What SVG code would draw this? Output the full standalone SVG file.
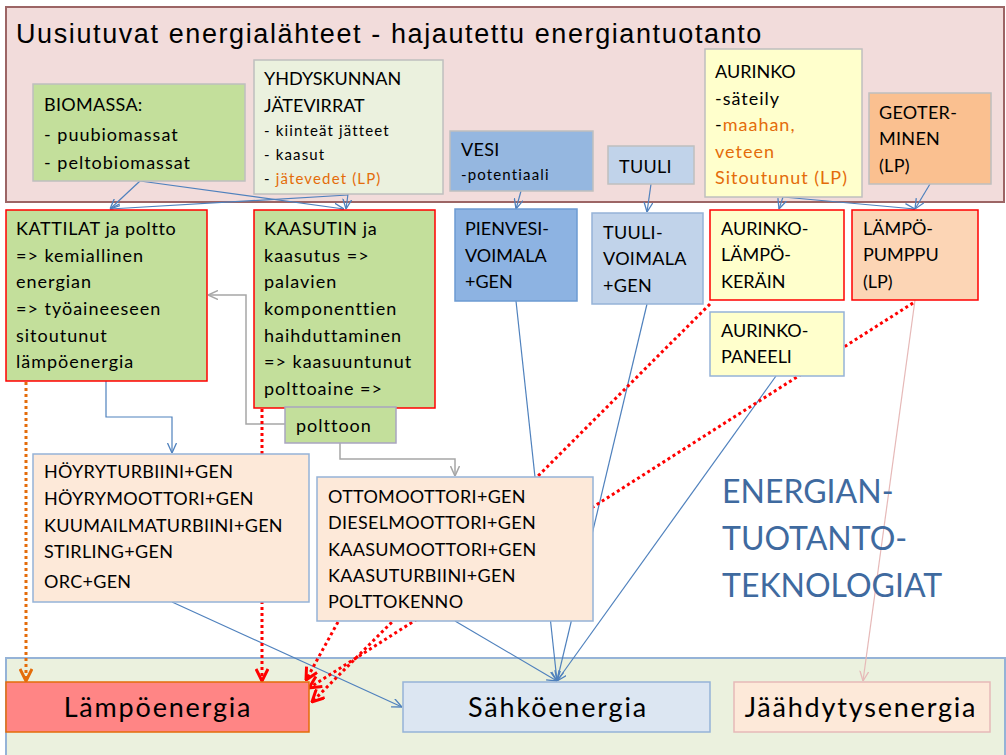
<svg xmlns="http://www.w3.org/2000/svg" width="1006" height="755" viewBox="0 0 1006 755">
<defs>
<style>
.t{font-family:Lato,"Liberation Sans",sans-serif;fill:#000;font-size:18px}
.s{font-size:15px;letter-spacing:1.15px}
.l{letter-spacing:1px}
.m{letter-spacing:0.6px}
.c{letter-spacing:0.3px}
.o{fill:#E46C0A}
.big{font-size:27px;letter-spacing:1.8px}
.gb{stroke:#BFBFBF;stroke-width:1.5}
.rb{stroke:#FF0000;stroke-width:1.5}
.bb{stroke:#95B3D7;stroke-width:1.5}
.cb{fill:none;stroke:#4F81BD;stroke-width:1.2}
.cg{fill:none;stroke:#A6A6A6;stroke-width:1.5}
.cr{fill:none;stroke:#FF0000;stroke-width:3;stroke-dasharray:3 3}
.co{fill:none;stroke:#E46C0A;stroke-width:3;stroke-dasharray:3 3}
.cp{fill:none;stroke:#E6B9B8;stroke-width:1.2}
</style>
<marker id="ab" viewBox="0 0 10 10" refX="10" refY="5" markerWidth="10" markerHeight="10" markerUnits="userSpaceOnUse" orient="auto"><path d="M0,0.5 L10,5 L0,9.5" fill="none" stroke="#4F81BD" stroke-width="1.3"/></marker>
<marker id="ag" viewBox="0 0 10 10" refX="10" refY="5" markerWidth="10" markerHeight="10" markerUnits="userSpaceOnUse" orient="auto"><path d="M0,0.5 L10,5 L0,9.5" fill="none" stroke="#A6A6A6" stroke-width="1.5"/></marker>
<marker id="ap" viewBox="0 0 10 10" refX="10" refY="5" markerWidth="10" markerHeight="10" markerUnits="userSpaceOnUse" orient="auto"><path d="M0,0.5 L10,5 L0,9.5" fill="none" stroke="#E6B9B8" stroke-width="1.3"/></marker>
<marker id="ar" viewBox="0 0 14 14" refX="13" refY="7" markerWidth="14" markerHeight="14" markerUnits="userSpaceOnUse" orient="auto"><path d="M1,1 L13,7 L1,13" fill="none" stroke="#FF0000" stroke-width="3"/></marker>
<marker id="ao" viewBox="0 0 14 14" refX="13" refY="7" markerWidth="14" markerHeight="14" markerUnits="userSpaceOnUse" orient="auto"><path d="M1,1 L13,7 L1,13" fill="none" stroke="#E46C0A" stroke-width="3"/></marker>
</defs>
<rect width="1006" height="755" fill="#FFFFFF"/>

<g id="sources-panel">
<rect x="6" y="7" width="998" height="195" fill="#F2DCDB" stroke="#9C6565" stroke-width="2"/>
<text x="16" y="43" font-family="Liberation Sans, Arial, sans-serif" font-size="27" letter-spacing="1.6" fill="#000">Uusiutuvat energialähteet - hajautettu energiantuotanto</text>
</g>
<g id="outputs-panel">
<rect x="6" y="658" width="999" height="100" fill="#EBF1DE" stroke="#95B3D7" stroke-width="2"/>
</g>

<g id="connectors">
<line class="cb" x1="140" y1="181" x2="110" y2="209" marker-end="url(#ab)"/>
<line class="cb" x1="140" y1="181" x2="344" y2="209" marker-end="url(#ab)"/>
<line class="cb" x1="348" y1="195" x2="110" y2="209" marker-end="url(#ab)"/>
<line class="cb" x1="348" y1="194" x2="346" y2="209" marker-end="url(#ab)"/>
<line class="cb" x1="521" y1="191" x2="516" y2="209" marker-end="url(#ab)"/>
<line class="cb" x1="651" y1="184" x2="647" y2="212" marker-end="url(#ab)"/>
<line class="cb" x1="783" y1="197" x2="779" y2="209" marker-end="url(#ab)"/>
<line class="cb" x1="783" y1="197" x2="915" y2="209" marker-end="url(#ab)"/>
<line class="cb" x1="930" y1="184" x2="915" y2="209" marker-end="url(#ab)"/>
<polyline class="cb" points="106,381 106,417 172,417 172,453" marker-end="url(#ab)"/>
<polyline class="cg" points="285,424 246,424 246,295 208,295" marker-end="url(#ag)"/>
<polyline class="cg" points="340,443 340,459 455,459 455,476" marker-end="url(#ag)"/>
<line class="cb" x1="516" y1="301" x2="557" y2="681" marker-end="url(#ab)"/>
<line class="cb" x1="647" y1="304" x2="557" y2="681" marker-end="url(#ab)"/>
<line class="cb" x1="776" y1="376" x2="557" y2="681" marker-end="url(#ab)"/>
<line class="cb" x1="455" y1="621" x2="557" y2="681" marker-end="url(#ab)"/>
<line class="cb" x1="172" y1="602" x2="402" y2="707" marker-end="url(#ab)"/>
<line class="cp" x1="915" y1="300" x2="863" y2="681" marker-end="url(#ap)"/>
<line class="co" x1="26" y1="382" x2="26" y2="681" marker-end="url(#ao)"/>
<line class="cr" x1="262" y1="409" x2="262" y2="681" marker-end="url(#ar)"/>
<line class="cr" x1="338" y1="622" x2="306" y2="680" marker-end="url(#ar)"/>
<line class="cr" x1="710" y1="304" x2="312" y2="702" marker-end="url(#ar)"/>
<line class="cr" x1="913" y1="303" x2="309" y2="688" marker-end="url(#ar)"/>
</g>

<g id="biomassa">
<rect x="33" y="84" width="212" height="97" fill="#C3DF9B" class="gb"/>
<text class="t"><tspan x="44" y="111" class="c">BIOMASSA:</tspan><tspan x="44" y="141" class="l">- puubiomassat</tspan><tspan x="44" y="169" class="l">- peltobiomassat</tspan></text>
</g>
<g id="jatevirrat">
<rect x="254" y="60" width="189" height="134" fill="#EBF1DE" class="gb"/>
<text class="t"><tspan x="264" y="85">YHDYSKUNNAN</tspan><tspan x="264" y="112">JÄTEVIRRAT</tspan></text>
<text class="t s"><tspan x="264" y="136">- kiinteät jätteet</tspan><tspan x="264" y="160">- kaasut</tspan><tspan x="264" y="184">- <tspan class="o">jätevedet (LP)</tspan></tspan></text>
</g>
<g id="vesi">
<rect x="450" y="131" width="143" height="60" fill="#95B7E0" class="gb"/>
<text class="t"><tspan x="461" y="156" class="c">VESI</tspan></text>
<text class="t s"><tspan x="461" y="180">-potentiaali</tspan></text>
</g>
<g id="tuuli">
<rect x="608" y="146" width="86" height="38" fill="#C1D3EA" class="gb"/>
<text class="t"><tspan x="619" y="173" class="c">TUULI</tspan></text>
</g>
<g id="aurinko">
<rect x="705" y="49" width="157" height="148" fill="#FFFFCC" class="gb"/>
<text class="t"><tspan x="715" y="78">AURINKO</tspan><tspan x="715" y="105" class="l">-säteily</tspan><tspan x="715" y="131" class="l">-<tspan class="o">maahan,</tspan></tspan><tspan x="715" y="158" class="o l">veteen</tspan><tspan x="715" y="184" class="o l">Sitoutunut (LP)</tspan></text>
</g>
<g id="geoterminen">
<rect x="869" y="93" width="122" height="91" fill="#FAC090" class="gb"/>
<text class="t"><tspan x="879" y="119" class="c">GEOTER-</tspan><tspan x="879" y="145" class="c">MINEN</tspan><tspan x="879" y="172" class="c">(LP)</tspan></text>
</g>

<g id="kattilat">
<rect x="6" y="210" width="201" height="171" fill="#C3DF9B" class="rb"/>
<text class="t"><tspan x="16" y="235" class="m">KATTILAT  ja poltto</tspan><tspan x="16" y="262" class="l">=&gt; kemiallinen</tspan><tspan x="16" y="288" class="l">energian</tspan><tspan x="16" y="315" class="l">=&gt; työaineeseen</tspan><tspan x="16" y="342" class="l">sitoutunut</tspan><tspan x="16" y="368" class="l">lämpöenergia</tspan></text>
</g>
<g id="kaasutin">
<rect x="254" y="210" width="181" height="198" fill="#C3DF9B" class="rb"/>
<text class="t"><tspan x="264" y="235" class="m">KAASUTIN ja</tspan><tspan x="264" y="262" class="l">kaasutus =&gt;</tspan><tspan x="264" y="288" class="l">palavien</tspan><tspan x="264" y="315" class="l">komponenttien</tspan><tspan x="264" y="342" class="l">haihduttaminen</tspan><tspan x="264" y="368" class="l">=&gt; kaasuuntunut</tspan><tspan x="264" y="395" class="l">polttoaine =&gt;</tspan></text>
</g>
<g id="polttoon">
<rect x="285" y="407" width="111" height="36" fill="#C3DF9B" stroke="#A9A5C0" stroke-width="1.5"/>
<text class="t"><tspan x="296" y="432" class="l">polttoon</tspan></text>
</g>
<g id="pienvesivoimala">
<rect x="455" y="209" width="122" height="92" fill="#8DB3E2" stroke="#6C9BD2" stroke-width="1.5"/>
<text class="t"><tspan x="465" y="235">PIENVESI-</tspan><tspan x="465" y="262">VOIMALA</tspan><tspan x="465" y="288">+GEN</tspan></text>
</g>
<g id="tuulivoimala">
<rect x="592" y="213" width="111" height="91" fill="#C1D3EA" class="bb"/>
<text class="t"><tspan x="603" y="239" class="c">TUULI-</tspan><tspan x="603" y="265" class="c">VOIMALA</tspan><tspan x="603" y="292" class="c">+GEN</tspan></text>
</g>
<g id="aurinkolampokerain">
<rect x="710" y="210" width="134" height="90" fill="#FFFFCC" class="rb"/>
<text class="t"><tspan x="721" y="235">AURINKO-</tspan><tspan x="721" y="261">LÄMPÖ-</tspan><tspan x="721" y="288">KERÄIN</tspan></text>
</g>
<g id="lampopumppu">
<rect x="852" y="210" width="126" height="90" fill="#FCD5B5" class="rb"/>
<text class="t"><tspan x="863" y="235">LÄMPÖ-</tspan><tspan x="863" y="261">PUMPPU</tspan><tspan x="863" y="288">(LP)</tspan></text>
</g>
<g id="aurinkopaneeli">
<rect x="710" y="312" width="134" height="64" fill="#FFFFCC" class="bb"/>
<text class="t"><tspan x="721" y="337">AURINKO-</tspan><tspan x="721" y="363">PANEELI</tspan></text>
</g>
<g id="hoyryturbiini">
<rect x="33" y="454" width="276" height="148" fill="#FDE9D9" class="bb"/>
<text class="t c"><tspan x="44" y="478">HÖYRYTURBIINI+GEN</tspan><tspan x="44" y="505">HÖYRYMOOTTORI+GEN</tspan><tspan x="44" y="532">KUUMAILMATURBIINI+GEN</tspan><tspan x="44" y="558">STIRLING+GEN</tspan><tspan x="44" y="588">ORC+GEN</tspan></text>
</g>
<g id="ottomoottori">
<rect x="317" y="477" width="276" height="144" fill="#FDE9D9" class="bb"/>
<text class="t c"><tspan x="328" y="503">OTTOMOOTTORI+GEN</tspan><tspan x="328" y="529">DIESELMOOTTORI+GEN</tspan><tspan x="328" y="556">KAASUMOOTTORI+GEN</tspan><tspan x="328" y="582">KAASUTURBIINI+GEN</tspan><tspan x="328" y="608">POLTTOKENNO</tspan></text>
</g>
<g id="label-teknologiat">
<text font-family="Lato, 'Liberation Sans', sans-serif" font-size="32" fill="#3F6A9F"><tspan x="722" y="503">ENERGIAN-</tspan><tspan x="722" y="550">TUOTANTO-</tspan><tspan x="722" y="597">TEKNOLOGIAT</tspan></text>
</g>
<g id="lampoenergia">
<rect x="6" y="682" width="303" height="50" fill="#FF8585" stroke="#E46C0A" stroke-width="1.5"/>
<text class="t big" x="158" y="717" text-anchor="middle">Lämpöenergia</text>
</g>
<g id="sahkoenergia">
<rect x="403" y="682" width="307" height="50" fill="#DCE6F2" class="bb"/>
<text class="t big" x="558" y="717" text-anchor="middle">Sähköenergia</text>
</g>
<g id="jaahdytysenergia">
<rect x="734" y="682" width="256" height="50" fill="#FDE9D9" stroke="#E6B9B8" stroke-width="1.5"/>
<text class="t big" x="861" y="717" text-anchor="middle">Jäähdytysenergia</text>
</g>
</svg>
